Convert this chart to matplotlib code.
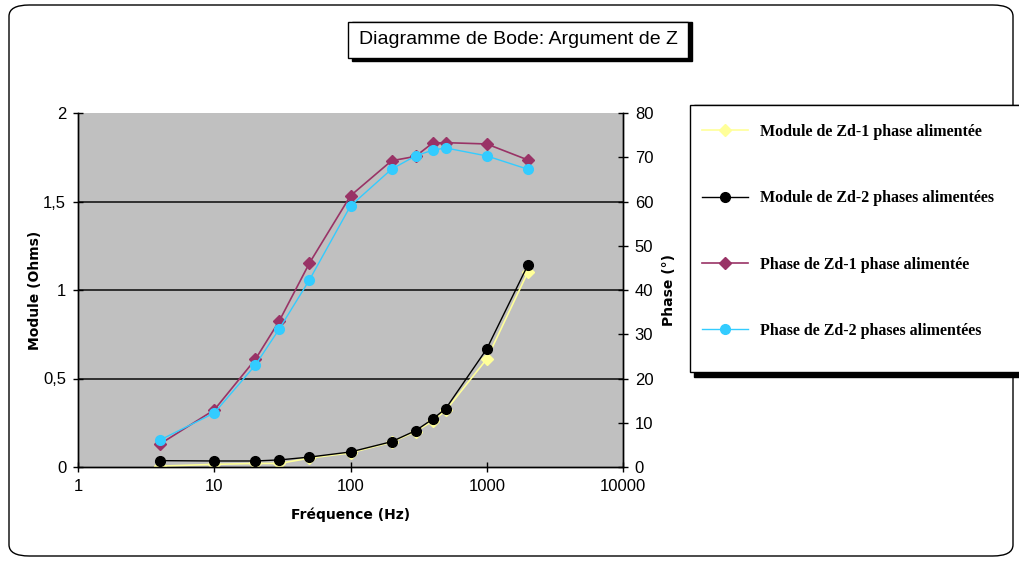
import matplotlib
matplotlib.use("Agg")
import matplotlib.pyplot as plt
from matplotlib.patches import Rectangle, FancyBboxPatch
from matplotlib.lines import Line2D
from matplotlib.ticker import FixedLocator, FixedFormatter

# Fréquences de mesure (Hz)
freq = [4, 10, 20, 30, 50, 100, 200, 300, 400, 500, 1000, 2000]

# Module (Ohms)
module_zd1 = [0.005, 0.015, 0.02, 0.02, 0.05, 0.08, 0.14, 0.20, 0.26, 0.32, 0.61, 1.10]
module_zd2 = [0.036, 0.034, 0.034, 0.040, 0.056, 0.085, 0.143, 0.205, 0.27, 0.33, 0.667, 1.14]

# Phase (degrés)
phase_zd1 = [5.2, 12.9, 24.3, 33.0, 46.1, 61.3, 69.2, 70.2, 73.2, 73.3, 73.0, 69.4]
phase_zd2 = [6.1, 12.2, 23.0, 31.2, 42.3, 59.0, 67.3, 70.3, 71.6, 72.1, 70.3, 67.3]

labels = [
    "Module de Zd-1 phase alimentée",
    "Module de Zd-2 phases alimentées",
    "Phase de Zd-1 phase alimentée",
    "Phase de Zd-2 phases alimentées",
]

W, H = 1019, 562
fig = plt.figure(figsize=(W / 100, H / 100), dpi=100)
fig.patch.set_facecolor("white")


def fx(px):
    return px / W


def fy(py):
    return 1 - py / H


# cadre arrondi du graphique
fig.patches.append(FancyBboxPatch((fx(9), fy(556)), fx(1004), (551) / H,
                                  boxstyle="round,pad=0,rounding_size=0.02",
                                  transform=fig.transFigure, facecolor="none",
                                  edgecolor="black", linewidth=1.0))

ax = fig.add_axes([fx(78), fy(467), fx(623 - 78), (467 - 113) / H])
ax.set_facecolor("#C0C0C0")
ax.set_xscale("log")
ax.set_xlim(1, 10000)
ax.set_ylim(0, 2)

for yv in [0.5, 1.0, 1.5]:
    ax.axhline(yv, color="#303030", linewidth=1.4, zorder=1)

ax.plot(freq, module_zd1, color="#FFFF99", marker="D", markersize=6,
        linewidth=1.2, zorder=3)
ax.plot(freq, module_zd2, color="black", marker="o", markersize=7,
        linewidth=1.0, zorder=4)

ax2 = ax.twinx()
ax2.set_ylim(0, 80)
ax2.set_xlim(1, 10000)
ax2.plot(freq, phase_zd1, color="#993366", marker="D", markersize=6,
         linewidth=1.2, zorder=3)
ax2.plot(freq, phase_zd2, color="#33CCFF", marker="o", markersize=7,
         linewidth=1.0, zorder=4)

ax.xaxis.set_major_locator(FixedLocator([1, 10, 100, 1000, 10000]))
ax.xaxis.set_major_formatter(FixedFormatter(["1", "10", "100", "1000", "10000"]))
ax.xaxis.set_minor_locator(FixedLocator([]))
ax.yaxis.set_major_locator(FixedLocator([0, 0.5, 1, 1.5, 2]))
ax.yaxis.set_major_formatter(FixedFormatter(["0", "0,5", "1", "1,5", "2"]))
ax2.yaxis.set_major_locator(FixedLocator(list(range(0, 81, 10))))
ax2.yaxis.set_major_formatter(FixedFormatter([str(v) for v in range(0, 81, 10)]))

for a in (ax, ax2):
    a.tick_params(direction="inout", length=7, width=1, color="black", pad=5)
    for lab in a.get_xticklabels() + a.get_yticklabels():
        lab.set_fontfamily("Liberation Sans")
        lab.set_fontsize(12)
    a.spines["top"].set_visible(False)
    for s in ("left", "right", "bottom"):
        a.spines[s].set_color("black")
        a.spines[s].set_linewidth(1.0)

ax.set_xlabel("Fréquence (Hz)", fontfamily="DejaVu Sans", fontweight="bold",
              fontsize=10, labelpad=10)
ax.set_ylabel("Module (Ohms)", fontfamily="DejaVu Sans", fontweight="bold",
              fontsize=10, labelpad=1)
ax2.set_ylabel("Phase (°)", fontfamily="DejaVu Sans", fontweight="bold",
               fontsize=10, labelpad=6)

# titre encadré avec ombre
fig.patches.append(Rectangle((fx(352), fy(61)), fx(688 - 348), (61 - 22) / H,
                             transform=fig.transFigure, facecolor="black",
                             edgecolor="black", zorder=1))
fig.patches.append(Rectangle((fx(348), fy(58)), fx(688 - 348), (58 - 22) / H,
                             transform=fig.transFigure, facecolor="white",
                             edgecolor="black", linewidth=1.0, zorder=2))
fig.text(fx(518), fy(40), "Diagramme de Bode: Argument de Z",
         fontfamily="Liberation Sans", fontsize=14, fontweight="medium",
         ha="center", va="center", zorder=3)

# légende encadrée avec ombre
fig.patches.append(Rectangle((fx(694), fy(377)), fx(400), (377 - 105) / H,
                             transform=fig.transFigure, facecolor="black",
                             edgecolor="black", zorder=1))
fig.patches.append(Rectangle((fx(690), fy(372)), fx(400), (372 - 105) / H,
                             transform=fig.transFigure, facecolor="white",
                             edgecolor="black", linewidth=1.0, zorder=2))

handles = [
    Line2D([], [], color="#FFFF99", marker="D", markersize=6, linewidth=1.2),
    Line2D([], [], color="black", marker="o", markersize=7, linewidth=1.0),
    Line2D([], [], color="#993366", marker="D", markersize=6, linewidth=1.2),
    Line2D([], [], color="#33CCFF", marker="o", markersize=7, linewidth=1.0),
]
leg = fig.legend(handles, labels, loc="upper left",
                 bbox_to_anchor=(fx(682), fy(104)), frameon=False,
                 prop={"family": "Liberation Serif", "weight": "bold", "size": 11.5},
                 labelspacing=3.15, handlelength=2.9, handletextpad=0.75,
                 borderpad=0.75)
leg.set_zorder(5)

fig.savefig("out.png", dpi=100)
